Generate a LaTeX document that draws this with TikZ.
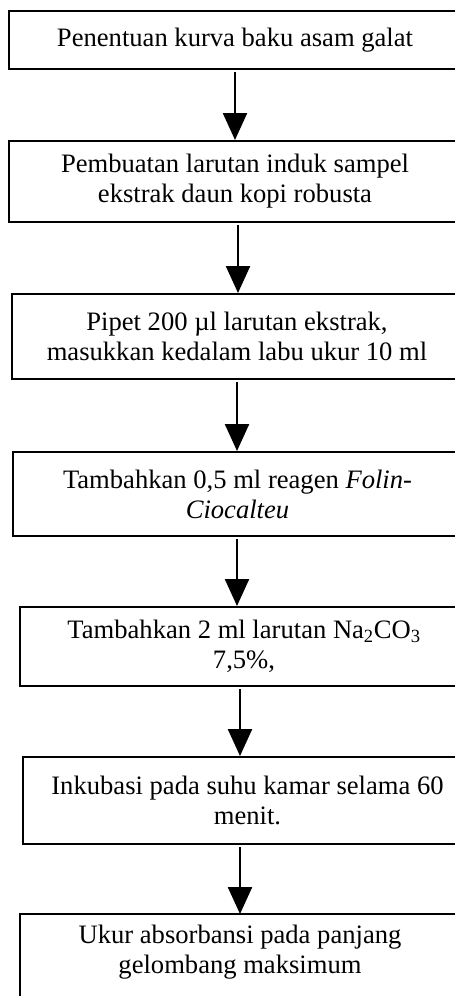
\documentclass[tikz,border=0pt]{standalone}
\usepackage{fontspec}
\setmainfont{Liberation Serif}
\usetikzlibrary{arrows.meta}
\tikzset{
  stepbox/.style={draw=black, line width=2pt, rectangle, inner sep=0pt, align=center,
    font=\fontsize{26.6}{30}\selectfont},
  boxline/.style={draw=black, line width=2pt},
  flow/.style={line width=2.4pt, -{Triangle[width=24pt,length=27pt]}, shorten <=2pt}
}
\begin{document}
\begin{tikzpicture}[x=1pt,y=-1pt]
\useasboundingbox (0,0) rectangle (455,996);
\fill[white] (0,0) rectangle (455,996);
\clip (0,0) rectangle (455,996);
\node[stepbox, minimum width=452pt, minimum height=58pt] (b1) at (235,40) {Penentuan kurva baku asam galat};
\node[stepbox, minimum width=452pt, minimum height=81pt] (b2) at (235,181.5) {Pembuatan larutan induk sampel\\ekstrak daun kopi robusta};
\node[stepbox, minimum width=450pt, minimum height=85pt] (b3) at (237,336.5) {Pipet 200 µl larutan ekstrak,\\masukkan kedalam labu ukur 10 ml};
\node[stepbox, minimum width=449pt, minimum height=84pt] (b4) at (237.5,494) {Tambahkan 0,5 ml reagen \textit{Folin-}\\\textit{Ciocalteu}};
\node[stepbox, minimum width=448pt, minimum height=79pt] (b5) at (244,646.5) {Tambahkan 2 ml larutan Na\textsubscript{2}CO\textsubscript{3}\\7,5\%,};
\node[stepbox, minimum width=449pt, minimum height=87pt] (b6) at (247.5,800.5) {Inkubasi pada suhu kamar selama 60\\menit.};
\node[stepbox, draw=none, minimum width=438pt, minimum height=74pt] (b7) at (240,952) {Ukur absorbansi pada panjang\\gelombang maksimum};
\coordinate (bottomedge) at (0,1010);
\draw[boxline] (b7.north west |- bottomedge) -- (b7.north west) -- (b7.north east) -- (b7.north east |- bottomedge);
\coordinate (x1) at (235,0);
\coordinate (x2) at (238,0);
\coordinate (x3) at (237,0);
\coordinate (x4) at (237,0);
\coordinate (x5) at (240,0);
\coordinate (x6) at (240,0);
\draw[flow] (b1.south -| x1) -- (b2.north -| x1);
\draw[flow] (b2.south -| x2) -- (b3.north -| x2);
\draw[flow] (b3.south -| x3) -- (b4.north -| x3);
\draw[flow] (b4.south -| x4) -- (b5.north -| x4);
\draw[flow] (b5.south -| x5) -- (b6.north -| x5);
\draw[flow] (b6.south -| x6) -- (b7.north -| x6);
\end{tikzpicture}
\end{document}
